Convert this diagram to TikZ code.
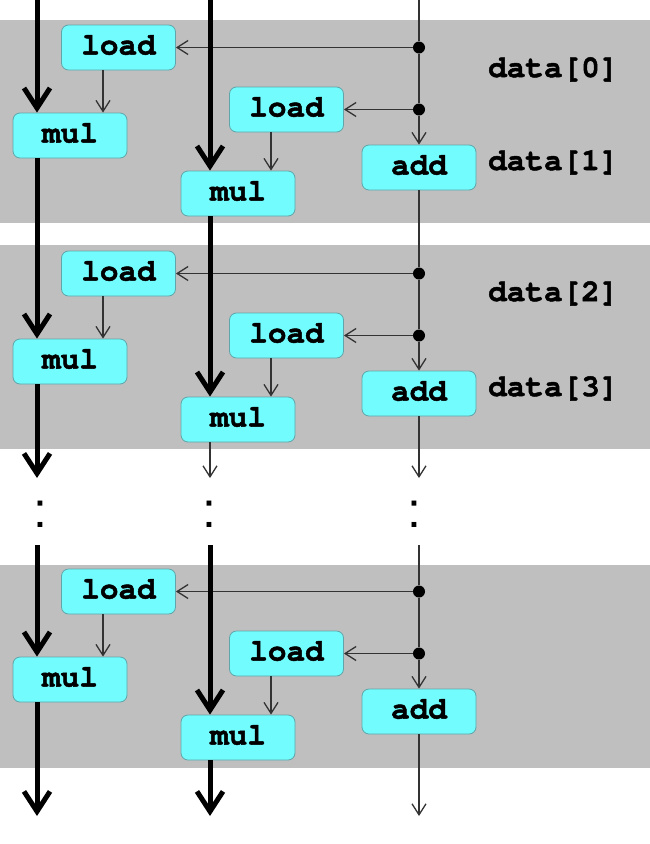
\documentclass[tikz,border=0pt]{standalone}
\usepackage{fontspec}
\setmonofont{texgyrecursor}[Extension=.otf, UprightFont=*-regular, BoldFont=*-bold, BoldFeatures={FakeBold=1.6}]
\setsansfont{Liberation Sans}
\usetikzlibrary{arrows.meta}
\definecolor{band}{RGB}{191,191,191}
\definecolor{boxfill}{RGB}{115,252,253}
\definecolor{boxline}{RGB}{95,165,170}
\definecolor{wire}{RGB}{51,51,51}
\begin{document}
\begin{tikzpicture}[x=1pt,y=-1pt,
  op/.style={draw=boxline, line width=0.8pt, fill=boxfill, rounded corners=7pt,
    minimum width=114pt, minimum height=45pt, inner sep=0pt,
    text height=18pt, text depth=4pt,
    font=\fontsize{31}{31}\selectfont\ttfamily\bfseries},
  lbl/.style={font=\fontsize{31}{31}\selectfont\ttfamily\bfseries, inner sep=0pt,
    text height=18pt, text depth=4pt, anchor=west},
  thickw/.style={line width=5pt, black},
  thinw/.style={line width=1.3pt, wire},
  bigarr/.style={-{Straight Barb[length=20pt,width=26pt]}},
  smallarr/.style={-{Straight Barb[length=11pt,width=14pt]}},
  junction/.style={circle, fill=black, inner sep=0pt, minimum size=12pt},
  dots/.style={font=\fontsize{50}{50}\selectfont\sffamily, inner sep=0pt, anchor=base}
]
\useasboundingbox (0,0) rectangle (650,844);
% bands
\fill[band] (0,20) rectangle (650,223);
\fill[band] (0,245) rectangle (650,449);
\fill[band] (0,565) rectangle (650,768);

\foreach \b/\o in {1/0,2/226,3/544} {
  \node[op] (ldA\b) at (118.5,47.5+\o) {load};
  \node[op] (mA\b)  at (70,135.5+\o) {mul};
  \node[op] (ldB\b) at (286.5,109.5+\o) {load};
  \node[op] (mB\b)  at (238,193.5+\o) {mul};
  \node[op] (ad\b)  at (419,167.5+\o) {add};
  \node[junction] (ja\b) at (419,47.5+\o) {};
  \node[junction] (jb\b) at (419,109.5+\o) {};
  \draw[thinw, smallarr] (ja\b) -- (ldA\b.east);
  \draw[thinw, smallarr] (jb\b) -- (ldB\b.east);
  \draw[thinw] (ja\b) -- (jb\b);
  \draw[thinw, smallarr] (jb\b) -- (ad\b);
  \draw[thinw, smallarr] ([xshift=-15.5pt]ldA\b.south) -- ([xshift=-15.5pt]ldA\b.south |- mA\b.north);
  \draw[thinw, smallarr] ([xshift=-15.5pt]ldB\b.south) -- ([xshift=-15.5pt]ldB\b.south |- mB\b.north);
}

% labels
\node[lbl] (d0) at (488,70) {data[0]};
\node[lbl] (d1) at (488,163) {data[1]};
\node[lbl] (d2) at (488,294) {data[2]};
\node[lbl] (d3) at (488,389) {data[3]};

% top entries
\coordinate (t1) at (37,0);
\coordinate (t2) at (210,0);
\coordinate (t3) at (419,0);
\draw[thickw,bigarr] (t1) -- (t1 |- mA1.north);
\draw[thickw,bigarr] (t2) -- (t2 |- mB1.north);
\draw[thinw] (t3) -- (ja1);

% band 1 -> band 2
\draw[thickw,bigarr] (mA1.south -| t1) -- (t1 |- mA2.north);
\draw[thickw,bigarr] (mB1.south -| t2) -- (t2 |- mB2.north);
\draw[thinw] (ad1) -- (ja2);

% band 2 -> gap
\coordinate (e1) at (37,478);
\coordinate (e2) at (210,478);
\coordinate (e3) at (419,478);
\draw[thickw,bigarr] (mA2.south -| e1) -- (e1);
\draw[thinw,smallarr] (mB2.south -| e2) -- (e2);
\draw[thinw,smallarr] (ad2) -- (e3);

% ellipsis
\node[dots] (c1) at (40,527) {:};
\node[dots] (c2) at (209,527) {:};
\node[dots] (c3) at (414,527) {:};

% gap -> band 3
\coordinate (s1) at (37,545);
\coordinate (s2) at (210,545);
\coordinate (s3) at (419,545);
\draw[thickw,bigarr] (s1) -- (s1 |- mA3.north);
\draw[thickw,bigarr] (s2) -- (s2 |- mB3.north);
\draw[thinw] (s3) -- (ja3);

% exits
\coordinate (f1) at (37,816);
\coordinate (f2) at (210,816);
\coordinate (f3) at (419,816);
\draw[thickw,bigarr] (mA3.south -| f1) -- (f1);
\draw[thickw,bigarr] (mB3.south -| f2) -- (f2);
\draw[thinw,smallarr] (ad3) -- (f3);
\end{tikzpicture}
\end{document}
